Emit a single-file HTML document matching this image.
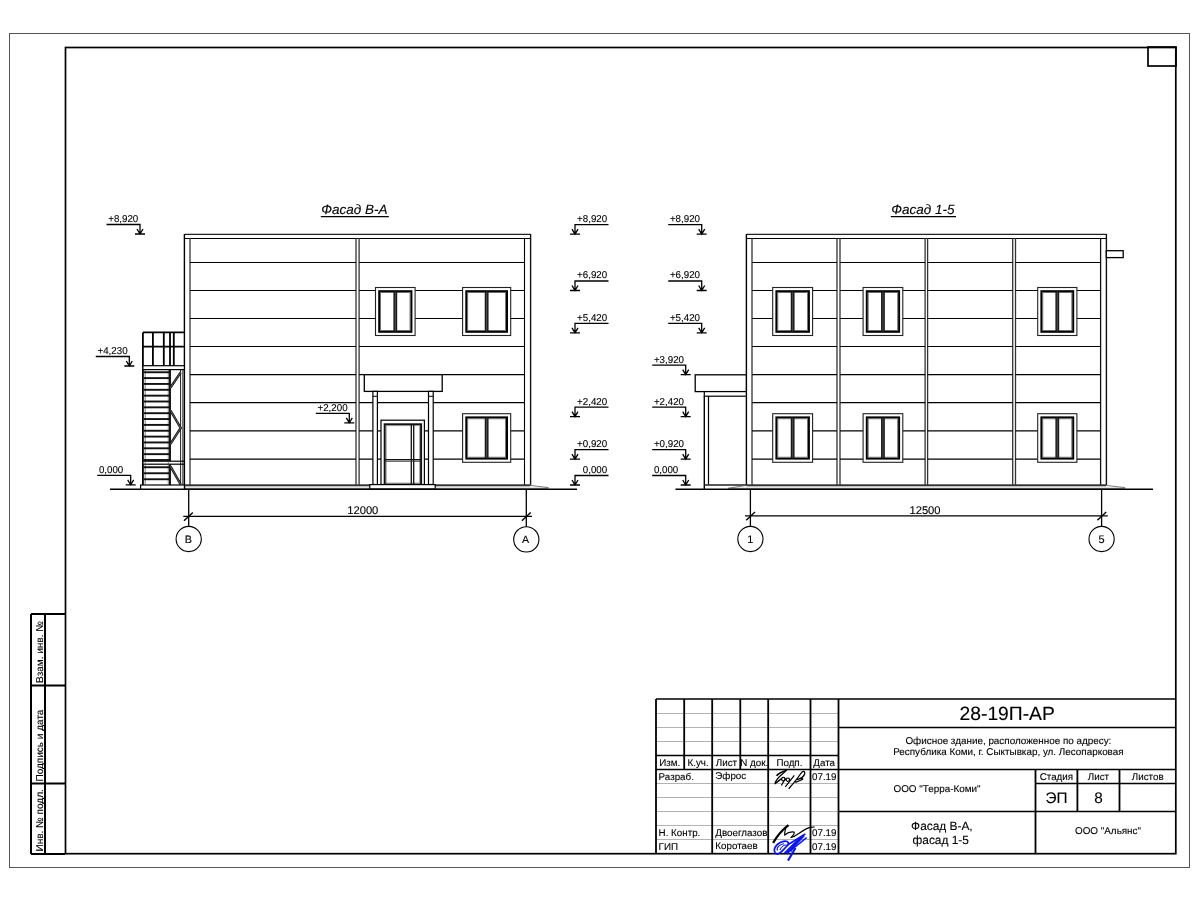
<!DOCTYPE html>
<html><head><meta charset="utf-8"><style>
html,body{margin:0;padding:0;background:#fff;}
svg{display:block;will-change:transform;}
text{font-family:"Liberation Sans",sans-serif;text-rendering:geometricPrecision;stroke:#000;stroke-width:0.12px;}
</style></head><body>
<svg width="1200" height="900" viewBox="0 0 1200 900">

<rect x="9.5" y="33.5" width="1180.0" height="834.0" stroke="#555" stroke-width="1" fill="none"/>
<rect x="65.5" y="47.5" width="1110.3" height="806.2" stroke="#000" stroke-width="1.7" fill="none"/>
<rect x="1148" y="47" width="28" height="19" stroke="#000" stroke-width="1.7" fill="none"/>
<path d="M31,614 H65 M31,614 V854 M45,614 V854 M31,685.5 H65 M31,783.5 H65 M31,854 H65" stroke="#000" stroke-width="2" fill="none" />
<text x="42.8" y="683" font-size="10" text-anchor="start" fill="#000"  transform="rotate(-90 42.8 683)">Взам. инв. №</text>
<text x="42.8" y="781.5" font-size="10" text-anchor="start" fill="#000"  transform="rotate(-90 42.8 781.5)">Подпись и дата</text>
<text x="42.8" y="851.5" font-size="10" text-anchor="start" fill="#000"  transform="rotate(-90 42.8 851.5)">Инв. № подл.</text>
<text x="321.2" y="213.8" font-size="13.5" text-anchor="start" fill="#000" font-style="italic" >Фасад В-А</text>
<line x1="320.8" y1="216.5" x2="388.8" y2="216.5" stroke="#000" stroke-width="1.25" />
<path d="M106.5,224.5 H140 V234.0 M135,234.0 H145 M137,229.0 L140,234.0 L143,229.0" stroke="#000" stroke-width="1.3" fill="none" />
<text x="108.2" y="221.95" font-size="9.95" text-anchor="start" fill="#000"  textLength="30.09" lengthAdjust="spacingAndGlyphs">+8,920</text>
<path d="M95.80000000000001,356.5 H129.3 V366.0 M124.30000000000001,366.0 H134.3 M126.30000000000001,361.0 L129.3,366.0 L132.3,361.0" stroke="#000" stroke-width="1.3" fill="none" />
<text x="97.50000000000001" y="353.95" font-size="9.95" text-anchor="start" fill="#000"  textLength="30.09" lengthAdjust="spacingAndGlyphs">+4,230</text>
<path d="M97.19999999999999,475.3 H130.7 V484.8 M125.69999999999999,484.8 H135.7 M127.69999999999999,479.8 L130.7,484.8 L133.7,479.8" stroke="#000" stroke-width="1.3" fill="none" />
<text x="98.89999999999999" y="472.75" font-size="9.95" text-anchor="start" fill="#000"  textLength="24.40" lengthAdjust="spacingAndGlyphs">0,000</text>
<path d="M315.8,413.3 H349.3 V422.8 M344.3,422.8 H354.3 M346.3,417.8 L349.3,422.8 L352.3,417.8" stroke="#000" stroke-width="1.3" fill="none" />
<text x="317.5" y="410.75" font-size="9.95" text-anchor="start" fill="#000"  textLength="30.09" lengthAdjust="spacingAndGlyphs">+2,200</text>
<path d="M608.5,224.7 H575 V234.2 M570,234.2 H580 M572,229.2 L575,234.2 L578,229.2" stroke="#000" stroke-width="1.3" fill="none" />
<text x="577.1072343750001" y="222.14999999999998" font-size="9.95" text-anchor="start" fill="#000"  textLength="30.09" lengthAdjust="spacingAndGlyphs">+8,920</text>
<path d="M608.5,281 H575 V290.5 M570,290.5 H580 M572,285.5 L575,290.5 L578,285.5" stroke="#000" stroke-width="1.3" fill="none" />
<text x="577.1072343750001" y="278.45" font-size="9.95" text-anchor="start" fill="#000"  textLength="30.09" lengthAdjust="spacingAndGlyphs">+6,920</text>
<path d="M608.5,323.3 H575 V332.8 M570,332.8 H580 M572,327.8 L575,332.8 L578,327.8" stroke="#000" stroke-width="1.3" fill="none" />
<text x="577.1072343750001" y="320.75" font-size="9.95" text-anchor="start" fill="#000"  textLength="30.09" lengthAdjust="spacingAndGlyphs">+5,420</text>
<path d="M608.5,407.2 H575 V416.7 M570,416.7 H580 M572,411.7 L575,416.7 L578,411.7" stroke="#000" stroke-width="1.3" fill="none" />
<text x="577.1072343750001" y="404.65" font-size="9.95" text-anchor="start" fill="#000"  textLength="30.09" lengthAdjust="spacingAndGlyphs">+2,420</text>
<path d="M608.5,449.7 H575 V459.2 M570,459.2 H580 M572,454.2 L575,459.2 L578,454.2" stroke="#000" stroke-width="1.3" fill="none" />
<text x="577.1072343750001" y="447.15" font-size="9.95" text-anchor="start" fill="#000"  textLength="30.09" lengthAdjust="spacingAndGlyphs">+0,920</text>
<path d="M608.5,475.5 H575 V485.0 M570,485.0 H580 M572,480.0 L575,485.0 L578,480.0" stroke="#000" stroke-width="1.3" fill="none" />
<text x="582.8010820312501" y="472.95" font-size="9.95" text-anchor="start" fill="#000"  textLength="24.40" lengthAdjust="spacingAndGlyphs">0,000</text>
<line x1="184.4" y1="234.4" x2="530.6" y2="234.4" stroke="#222" stroke-width="1.3" />
<line x1="184.4" y1="238.5" x2="530.6" y2="238.5" stroke="#000" stroke-width="1.1" />
<line x1="184.4" y1="234" x2="184.4" y2="485" stroke="#000" stroke-width="1.4" />
<line x1="190" y1="238" x2="190" y2="485" stroke="#333" stroke-width="1.3" />
<line x1="530.6" y1="234" x2="530.6" y2="485" stroke="#111" stroke-width="1.4" />
<line x1="524.5" y1="238" x2="524.5" y2="485" stroke="#000" stroke-width="1.1" />
<line x1="356" y1="238" x2="356" y2="485" stroke="#333" stroke-width="1.3" />
<line x1="359.1" y1="238" x2="359.1" y2="485" stroke="#333" stroke-width="1.3" />
<line x1="190" y1="262.5" x2="356" y2="262.5" stroke="#000" stroke-width="1.2" />
<line x1="359.1" y1="262.5" x2="524.5" y2="262.5" stroke="#000" stroke-width="1.2" />
<line x1="190" y1="290.5" x2="356" y2="290.5" stroke="#000" stroke-width="1.2" />
<line x1="359.1" y1="290.5" x2="524.5" y2="290.5" stroke="#000" stroke-width="1.2" />
<line x1="190" y1="318.5" x2="356" y2="318.5" stroke="#000" stroke-width="1.2" />
<line x1="359.1" y1="318.5" x2="524.5" y2="318.5" stroke="#000" stroke-width="1.2" />
<line x1="190" y1="346.5" x2="356" y2="346.5" stroke="#000" stroke-width="1.2" />
<line x1="359.1" y1="346.5" x2="524.5" y2="346.5" stroke="#000" stroke-width="1.2" />
<line x1="190" y1="374.6" x2="356" y2="374.6" stroke="#000" stroke-width="1.2" />
<line x1="359.1" y1="374.6" x2="524.5" y2="374.6" stroke="#000" stroke-width="1.2" />
<line x1="190" y1="402.7" x2="356" y2="402.7" stroke="#000" stroke-width="1.2" />
<line x1="359.1" y1="402.7" x2="524.5" y2="402.7" stroke="#000" stroke-width="1.2" />
<line x1="190" y1="430.9" x2="356" y2="430.9" stroke="#000" stroke-width="1.2" />
<line x1="359.1" y1="430.9" x2="524.5" y2="430.9" stroke="#000" stroke-width="1.2" />
<line x1="190" y1="459.1" x2="356" y2="459.1" stroke="#000" stroke-width="1.2" />
<line x1="359.1" y1="459.1" x2="524.5" y2="459.1" stroke="#000" stroke-width="1.2" />
<rect x="375.5" y="287.5" width="39.60000000000002" height="48.0" stroke="#222" stroke-width="1.1" fill="#fff"/>
<rect x="379.2" y="291.2" width="32.200000000000045" height="40.60000000000002" stroke="#000" stroke-width="2.0" fill="#fff"/>
<rect x="380.59999999999997" y="292.59999999999997" width="29.40000000000009" height="37.80000000000007" stroke="#555" stroke-width="0.8" fill="none"/>
<rect x="393.40000000000003" y="291.2" width="3.8" height="40.60000000000002" fill="#1a1a1a"/>
<line x1="395.3" y1="292.2" x2="395.3" y2="330.8" stroke="#666" stroke-width="0.7" />
<rect x="462.6" y="287.5" width="48.099999999999966" height="48.0" stroke="#222" stroke-width="1.1" fill="#fff"/>
<rect x="466.3" y="291.2" width="40.69999999999999" height="40.60000000000002" stroke="#000" stroke-width="2.0" fill="#fff"/>
<rect x="467.7" y="292.59999999999997" width="37.900000000000034" height="37.80000000000007" stroke="#555" stroke-width="0.8" fill="none"/>
<rect x="484.75" y="291.2" width="3.8" height="40.60000000000002" fill="#1a1a1a"/>
<line x1="486.65" y1="292.2" x2="486.65" y2="330.8" stroke="#666" stroke-width="0.7" />
<rect x="462.6" y="413.7" width="48.099999999999966" height="48.60000000000002" stroke="#222" stroke-width="1.1" fill="#fff"/>
<rect x="466.3" y="417.4" width="40.69999999999999" height="41.200000000000045" stroke="#000" stroke-width="2.0" fill="#fff"/>
<rect x="467.7" y="418.79999999999995" width="37.900000000000034" height="38.40000000000009" stroke="#555" stroke-width="0.8" fill="none"/>
<rect x="484.75" y="417.4" width="3.8" height="41.200000000000045" fill="#1a1a1a"/>
<line x1="486.65" y1="418.4" x2="486.65" y2="457.6" stroke="#666" stroke-width="0.7" />
<rect x="364.3" y="374.7" width="77.89999999999998" height="16.69999999999999" stroke="#000" stroke-width="1.3" fill="#fff"/>
<rect x="372.9" y="391.4" width="4.5" height="93.10000000000002" stroke="#000" stroke-width="1.2" fill="#fff"/>
<line x1="372.9" y1="396.3" x2="377.4" y2="396.3" stroke="#000" stroke-width="1" />
<rect x="428.5" y="391.4" width="4.699999999999989" height="93.10000000000002" stroke="#000" stroke-width="1.2" fill="#fff"/>
<line x1="428.5" y1="396.3" x2="433.2" y2="396.3" stroke="#000" stroke-width="1" />
<rect x="381" y="420.2" width="43.39999999999998" height="64.30000000000001" stroke="#000" stroke-width="1.2" fill="#fff"/>
<rect x="384.7" y="424.3" width="36.400000000000034" height="60.19999999999999" stroke="#111" stroke-width="2" fill="#fff"/>
<rect x="386.2" y="425.8" width="33.400000000000034" height="57.19999999999999" stroke="#777" stroke-width="0.6" fill="none"/>
<line x1="411.3" y1="424" x2="411.3" y2="484" stroke="#111" stroke-width="1.3" />
<line x1="413.7" y1="424" x2="413.7" y2="484" stroke="#111" stroke-width="1.3" />
<line x1="385" y1="459.6" x2="421" y2="459.6" stroke="#111" stroke-width="1.1" />
<line x1="385" y1="461.2" x2="421" y2="461.2" stroke="#333" stroke-width="1.0" />
<rect x="184.5" y="484.3" width="346" height="2" fill="#333"/>
<path d="M530.3,485.3 Q536,486.3 548.3,487.5 L548.3,488.3 L184.5,488.3" stroke="#555" stroke-width="0.8" fill="none" />
<rect x="369.8" y="484.6" width="65.39999999999998" height="4.399999999999977" stroke="#000" stroke-width="1.2" fill="#fff"/>
<line x1="110" y1="489.3" x2="577" y2="489.3" stroke="#000" stroke-width="1.45" />
<line x1="184.5" y1="484.5" x2="184.5" y2="489" stroke="#000" stroke-width="1.3" />
<path d="M142.9,332.4 H184.2 M142.9,346.6 H184.2 M142.9,332.4 V485 M152.9,332.4 V365.7 M163.8,332.4 V365.7 M170,332.4 V485 M173.8,332.4 V365.7" stroke="#000" stroke-width="1.8" fill="none" />
<rect x="142.9" y="365.7" width="41.5" height="3.900000000000034" stroke="#000" stroke-width="1.2" fill="#fff"/>
<rect x="142.9" y="461.2" width="41.5" height="3.0" stroke="#000" stroke-width="1.2" fill="#fff"/>
<line x1="145.2" y1="370" x2="145.2" y2="484.5" stroke="#555" stroke-width="0.8" />
<line x1="168.3" y1="370" x2="168.3" y2="484.5" stroke="#555" stroke-width="0.8" />
<rect x="143.5" y="371.3" width="26" height="1.9" fill="#111"/>
<rect x="143.5" y="377.15000000000003" width="26" height="1.9" fill="#111"/>
<rect x="143.5" y="383.00000000000006" width="26" height="1.9" fill="#111"/>
<rect x="143.5" y="388.8500000000001" width="26" height="1.9" fill="#111"/>
<rect x="143.5" y="394.7000000000001" width="26" height="1.9" fill="#111"/>
<rect x="143.5" y="400.5500000000001" width="26" height="1.9" fill="#111"/>
<rect x="143.5" y="406.40000000000015" width="26" height="1.9" fill="#111"/>
<rect x="143.5" y="412.25000000000017" width="26" height="1.9" fill="#111"/>
<rect x="143.5" y="418.1000000000002" width="26" height="1.9" fill="#111"/>
<rect x="143.5" y="423.9500000000002" width="26" height="1.9" fill="#111"/>
<rect x="143.5" y="429.80000000000024" width="26" height="1.9" fill="#111"/>
<rect x="143.5" y="435.65000000000026" width="26" height="1.9" fill="#111"/>
<rect x="143.5" y="441.5000000000003" width="26" height="1.9" fill="#111"/>
<rect x="143.5" y="447.3500000000003" width="26" height="1.9" fill="#111"/>
<rect x="143.5" y="453.20000000000033" width="26" height="1.9" fill="#111"/>
<rect x="143.5" y="459.05000000000035" width="26" height="1.9" fill="#111"/>
<rect x="143.5" y="466.3" width="26" height="1.9" fill="#111"/>
<rect x="143.5" y="472.3" width="26" height="1.9" fill="#111"/>
<rect x="143.5" y="478.3" width="26" height="1.9" fill="#111"/>
<line x1="180.6" y1="369.6" x2="180.6" y2="485" stroke="#000" stroke-width="0.9" />
<line x1="182.9" y1="369.6" x2="182.9" y2="485" stroke="#000" stroke-width="0.9" />
<path d="M170.5,387.5 L180.7,372.3 M170.5,410.6 L180.7,428 L170.5,443.9 M170.5,466.3 L180.7,484.4" stroke="#111" stroke-width="2.4" fill="none" />
<path d="M170.5,387.5 L180.7,372.3 M170.5,410.6 L180.7,428 L170.5,443.9 M170.5,466.3 L180.7,484.4" stroke="#999" stroke-width="0.6" fill="none" />
<rect x="140.6" y="485" width="43.80000000000001" height="4.100000000000023" stroke="#000" stroke-width="1.2" fill="#fff"/>
<line x1="188.7" y1="489" x2="188.7" y2="526" stroke="#000" stroke-width="1.3" />
<line x1="526.3" y1="489" x2="526.3" y2="526.8" stroke="#000" stroke-width="1.3" />
<line x1="183.3" y1="516.4" x2="532" y2="516.4" stroke="#000" stroke-width="1.3" />
<path d="M184,520.7 L192.8,512.5 M521.9,520.7 L530.7,512.5" stroke="#000" stroke-width="1.4" fill="none" />
<circle cx="188.7" cy="539" r="12.6" stroke="#000" stroke-width="1.1" fill="none"/>
<circle cx="526.3" cy="539.4" r="12.6" stroke="#000" stroke-width="1.1" fill="none"/>
<text x="188.3" y="543" font-size="10.8" text-anchor="middle" fill="#000"  >В</text>
<text x="525.6" y="543.3" font-size="10.6" text-anchor="middle" fill="#000"  >А</text>
<text x="362.8" y="514" font-size="11.2" text-anchor="middle" fill="#000"  >12000</text>
<text x="891.2" y="213.8" font-size="13.5" text-anchor="start" fill="#000" font-style="italic" >Фасад 1-5</text>
<line x1="890.8" y1="216.5" x2="956" y2="216.5" stroke="#000" stroke-width="1.25" />
<path d="M668.2,224.7 H701.7 V234.2 M696.7,234.2 H706.7 M698.7,229.2 L701.7,234.2 L704.7,229.2" stroke="#000" stroke-width="1.3" fill="none" />
<text x="669.9000000000001" y="222.14999999999998" font-size="9.95" text-anchor="start" fill="#000"  textLength="30.09" lengthAdjust="spacingAndGlyphs">+8,920</text>
<path d="M668.2,281 H701.7 V290.5 M696.7,290.5 H706.7 M698.7,285.5 L701.7,290.5 L704.7,285.5" stroke="#000" stroke-width="1.3" fill="none" />
<text x="669.9000000000001" y="278.45" font-size="9.95" text-anchor="start" fill="#000"  textLength="30.09" lengthAdjust="spacingAndGlyphs">+6,920</text>
<path d="M668.2,323.3 H701.7 V332.8 M696.7,332.8 H706.7 M698.7,327.8 L701.7,332.8 L704.7,327.8" stroke="#000" stroke-width="1.3" fill="none" />
<text x="669.9000000000001" y="320.75" font-size="9.95" text-anchor="start" fill="#000"  textLength="30.09" lengthAdjust="spacingAndGlyphs">+5,420</text>
<path d="M652.2,365.2 H685.7 V374.7 M680.7,374.7 H690.7 M682.7,369.7 L685.7,374.7 L688.7,369.7" stroke="#000" stroke-width="1.3" fill="none" />
<text x="653.9000000000001" y="362.65" font-size="9.95" text-anchor="start" fill="#000"  textLength="30.09" lengthAdjust="spacingAndGlyphs">+3,920</text>
<path d="M652.2,407.2 H685.7 V416.7 M680.7,416.7 H690.7 M682.7,411.7 L685.7,416.7 L688.7,411.7" stroke="#000" stroke-width="1.3" fill="none" />
<text x="653.9000000000001" y="404.65" font-size="9.95" text-anchor="start" fill="#000"  textLength="30.09" lengthAdjust="spacingAndGlyphs">+2,420</text>
<path d="M652.2,449.7 H685.7 V459.2 M680.7,459.2 H690.7 M682.7,454.2 L685.7,459.2 L688.7,454.2" stroke="#000" stroke-width="1.3" fill="none" />
<text x="653.9000000000001" y="447.15" font-size="9.95" text-anchor="start" fill="#000"  textLength="30.09" lengthAdjust="spacingAndGlyphs">+0,920</text>
<path d="M652.2,475.5 H685.7 V485.0 M680.7,485.0 H690.7 M682.7,480.0 L685.7,485.0 L688.7,480.0" stroke="#000" stroke-width="1.3" fill="none" />
<text x="653.9000000000001" y="472.95" font-size="9.95" text-anchor="start" fill="#000"  textLength="24.40" lengthAdjust="spacingAndGlyphs">0,000</text>
<line x1="746.4" y1="234.4" x2="1106.4" y2="234.4" stroke="#222" stroke-width="1.3" />
<line x1="746.4" y1="238.5" x2="1106.4" y2="238.5" stroke="#000" stroke-width="1.1" />
<line x1="746.4" y1="234" x2="746.4" y2="485" stroke="#000" stroke-width="1.4" />
<line x1="752" y1="238" x2="752" y2="485" stroke="#333" stroke-width="1.3" />
<line x1="1106.4" y1="234" x2="1106.4" y2="485" stroke="#111" stroke-width="1.4" />
<line x1="1100.6" y1="238" x2="1100.6" y2="485" stroke="#111" stroke-width="1.3" />
<line x1="837" y1="238" x2="837" y2="485" stroke="#333" stroke-width="1.3" />
<line x1="840" y1="238" x2="840" y2="485" stroke="#333" stroke-width="1.3" />
<line x1="925.1" y1="238" x2="925.1" y2="485" stroke="#333" stroke-width="1.3" />
<line x1="927.6" y1="238" x2="927.6" y2="485" stroke="#333" stroke-width="1.3" />
<line x1="1012.7" y1="238" x2="1012.7" y2="485" stroke="#333" stroke-width="1.3" />
<line x1="1015.5" y1="238" x2="1015.5" y2="485" stroke="#333" stroke-width="1.3" />
<rect x="1106.3" y="250.7" width="16.90000000000009" height="6.900000000000034" stroke="#000" stroke-width="1.3" fill="#fff"/>
<line x1="752" y1="262.5" x2="837" y2="262.5" stroke="#000" stroke-width="1.2" />
<line x1="840" y1="262.5" x2="925.1" y2="262.5" stroke="#000" stroke-width="1.2" />
<line x1="927.6" y1="262.5" x2="1012.7" y2="262.5" stroke="#000" stroke-width="1.2" />
<line x1="1015.5" y1="262.5" x2="1100.6" y2="262.5" stroke="#000" stroke-width="1.2" />
<line x1="752" y1="290.5" x2="837" y2="290.5" stroke="#000" stroke-width="1.2" />
<line x1="840" y1="290.5" x2="925.1" y2="290.5" stroke="#000" stroke-width="1.2" />
<line x1="927.6" y1="290.5" x2="1012.7" y2="290.5" stroke="#000" stroke-width="1.2" />
<line x1="1015.5" y1="290.5" x2="1100.6" y2="290.5" stroke="#000" stroke-width="1.2" />
<line x1="752" y1="318.5" x2="837" y2="318.5" stroke="#000" stroke-width="1.2" />
<line x1="840" y1="318.5" x2="925.1" y2="318.5" stroke="#000" stroke-width="1.2" />
<line x1="927.6" y1="318.5" x2="1012.7" y2="318.5" stroke="#000" stroke-width="1.2" />
<line x1="1015.5" y1="318.5" x2="1100.6" y2="318.5" stroke="#000" stroke-width="1.2" />
<line x1="752" y1="346.5" x2="837" y2="346.5" stroke="#000" stroke-width="1.2" />
<line x1="840" y1="346.5" x2="925.1" y2="346.5" stroke="#000" stroke-width="1.2" />
<line x1="927.6" y1="346.5" x2="1012.7" y2="346.5" stroke="#000" stroke-width="1.2" />
<line x1="1015.5" y1="346.5" x2="1100.6" y2="346.5" stroke="#000" stroke-width="1.2" />
<line x1="752" y1="374.6" x2="837" y2="374.6" stroke="#000" stroke-width="1.2" />
<line x1="840" y1="374.6" x2="925.1" y2="374.6" stroke="#000" stroke-width="1.2" />
<line x1="927.6" y1="374.6" x2="1012.7" y2="374.6" stroke="#000" stroke-width="1.2" />
<line x1="1015.5" y1="374.6" x2="1100.6" y2="374.6" stroke="#000" stroke-width="1.2" />
<line x1="752" y1="402.7" x2="837" y2="402.7" stroke="#000" stroke-width="1.2" />
<line x1="840" y1="402.7" x2="925.1" y2="402.7" stroke="#000" stroke-width="1.2" />
<line x1="927.6" y1="402.7" x2="1012.7" y2="402.7" stroke="#000" stroke-width="1.2" />
<line x1="1015.5" y1="402.7" x2="1100.6" y2="402.7" stroke="#000" stroke-width="1.2" />
<line x1="752" y1="430.9" x2="837" y2="430.9" stroke="#000" stroke-width="1.2" />
<line x1="840" y1="430.9" x2="925.1" y2="430.9" stroke="#000" stroke-width="1.2" />
<line x1="927.6" y1="430.9" x2="1012.7" y2="430.9" stroke="#000" stroke-width="1.2" />
<line x1="1015.5" y1="430.9" x2="1100.6" y2="430.9" stroke="#000" stroke-width="1.2" />
<line x1="752" y1="459.1" x2="837" y2="459.1" stroke="#000" stroke-width="1.2" />
<line x1="840" y1="459.1" x2="925.1" y2="459.1" stroke="#000" stroke-width="1.2" />
<line x1="927.6" y1="459.1" x2="1012.7" y2="459.1" stroke="#000" stroke-width="1.2" />
<line x1="1015.5" y1="459.1" x2="1100.6" y2="459.1" stroke="#000" stroke-width="1.2" />
<rect x="772.7" y="287.5" width="39.89999999999998" height="48.0" stroke="#222" stroke-width="1.1" fill="#fff"/>
<rect x="776.4000000000001" y="291.2" width="32.499999999999886" height="40.60000000000002" stroke="#000" stroke-width="2.0" fill="#fff"/>
<rect x="777.8000000000001" y="292.59999999999997" width="29.699999999999932" height="37.80000000000007" stroke="#555" stroke-width="0.8" fill="none"/>
<rect x="790.7500000000001" y="291.2" width="3.8" height="40.60000000000002" fill="#1a1a1a"/>
<line x1="792.6500000000001" y1="292.2" x2="792.6500000000001" y2="330.8" stroke="#666" stroke-width="0.7" />
<rect x="772.7" y="413.7" width="39.89999999999998" height="48.60000000000002" stroke="#222" stroke-width="1.1" fill="#fff"/>
<rect x="776.4000000000001" y="417.4" width="32.499999999999886" height="41.200000000000045" stroke="#000" stroke-width="2.0" fill="#fff"/>
<rect x="777.8000000000001" y="418.79999999999995" width="29.699999999999932" height="38.40000000000009" stroke="#555" stroke-width="0.8" fill="none"/>
<rect x="790.7500000000001" y="417.4" width="3.8" height="41.200000000000045" fill="#1a1a1a"/>
<line x1="792.6500000000001" y1="418.4" x2="792.6500000000001" y2="457.6" stroke="#666" stroke-width="0.7" />
<rect x="863.1" y="287.5" width="39.69999999999993" height="48.0" stroke="#222" stroke-width="1.1" fill="#fff"/>
<rect x="866.8000000000001" y="291.2" width="32.29999999999984" height="40.60000000000002" stroke="#000" stroke-width="2.0" fill="#fff"/>
<rect x="868.2" y="292.59999999999997" width="29.499999999999886" height="37.80000000000007" stroke="#555" stroke-width="0.8" fill="none"/>
<rect x="881.0500000000001" y="291.2" width="3.8" height="40.60000000000002" fill="#1a1a1a"/>
<line x1="882.95" y1="292.2" x2="882.95" y2="330.8" stroke="#666" stroke-width="0.7" />
<rect x="863.1" y="413.7" width="39.69999999999993" height="48.60000000000002" stroke="#222" stroke-width="1.1" fill="#fff"/>
<rect x="866.8000000000001" y="417.4" width="32.29999999999984" height="41.200000000000045" stroke="#000" stroke-width="2.0" fill="#fff"/>
<rect x="868.2" y="418.79999999999995" width="29.499999999999886" height="38.40000000000009" stroke="#555" stroke-width="0.8" fill="none"/>
<rect x="881.0500000000001" y="417.4" width="3.8" height="41.200000000000045" fill="#1a1a1a"/>
<line x1="882.95" y1="418.4" x2="882.95" y2="457.6" stroke="#666" stroke-width="0.7" />
<rect x="1037.7" y="287.5" width="39.200000000000045" height="48.0" stroke="#222" stroke-width="1.1" fill="#fff"/>
<rect x="1041.4" y="291.2" width="31.799999999999955" height="40.60000000000002" stroke="#000" stroke-width="2.0" fill="#fff"/>
<rect x="1042.8000000000002" y="292.59999999999997" width="28.999999999999773" height="37.80000000000007" stroke="#555" stroke-width="0.8" fill="none"/>
<rect x="1055.4" y="291.2" width="3.8" height="40.60000000000002" fill="#1a1a1a"/>
<line x1="1057.3000000000002" y1="292.2" x2="1057.3000000000002" y2="330.8" stroke="#666" stroke-width="0.7" />
<rect x="1037.7" y="413.7" width="39.200000000000045" height="48.60000000000002" stroke="#222" stroke-width="1.1" fill="#fff"/>
<rect x="1041.4" y="417.4" width="31.799999999999955" height="41.200000000000045" stroke="#000" stroke-width="2.0" fill="#fff"/>
<rect x="1042.8000000000002" y="418.79999999999995" width="28.999999999999773" height="38.40000000000009" stroke="#555" stroke-width="0.8" fill="none"/>
<rect x="1055.4" y="417.4" width="3.8" height="41.200000000000045" fill="#1a1a1a"/>
<line x1="1057.3000000000002" y1="418.4" x2="1057.3000000000002" y2="457.6" stroke="#666" stroke-width="0.7" />
<rect x="695.2" y="374.8" width="51.09999999999991" height="16.80000000000001" stroke="#000" stroke-width="1.3" fill="#fff"/>
<rect x="704.3" y="391.6" width="42.0" height="4.599999999999966" stroke="#000" stroke-width="1.2" fill="#fff"/>
<line x1="704.3" y1="396" x2="704.3" y2="489.3" stroke="#000" stroke-width="1.4" />
<line x1="708.5" y1="396" x2="708.5" y2="484.6" stroke="#000" stroke-width="1.2" />
<line x1="704.3" y1="484.9" x2="746.3" y2="484.9" stroke="#222" stroke-width="1.5" />
<rect x="746.3" y="484.3" width="360" height="2" fill="#333"/>
<path d="M1106.3,485.3 Q1112,486.3 1124.8,487.5 L1124.8,488.3 L728.2,488.3 L746.3,485.3" stroke="#555" stroke-width="0.8" fill="none" />
<line x1="675.5" y1="489.3" x2="1153" y2="489.3" stroke="#000" stroke-width="1.45" />
<line x1="750.4" y1="489" x2="750.4" y2="526.5" stroke="#000" stroke-width="1.3" />
<line x1="1101.6" y1="489" x2="1101.6" y2="526.5" stroke="#000" stroke-width="1.3" />
<line x1="745" y1="515.9" x2="1107.8" y2="515.9" stroke="#000" stroke-width="1.3" />
<path d="M746.2,520.2 L755,512 M1097.4,520.2 L1106.2,512" stroke="#000" stroke-width="1.4" fill="none" />
<circle cx="750.4" cy="539" r="12.6" stroke="#000" stroke-width="1.1" fill="none"/>
<circle cx="1101.6" cy="539" r="12.6" stroke="#000" stroke-width="1.1" fill="none"/>
<text x="750.4" y="543" font-size="11" text-anchor="middle" fill="#000"  >1</text>
<text x="1101.6" y="543" font-size="11" text-anchor="middle" fill="#000"  >5</text>
<text x="925" y="513.5" font-size="11.2" text-anchor="middle" fill="#000"  >12500</text>
<line x1="656" y1="713.5" x2="838.5" y2="713.5" stroke="#aaa" stroke-width="0.9" />
<line x1="656" y1="727.5" x2="838.5" y2="727.5" stroke="#aaa" stroke-width="0.9" />
<line x1="656" y1="741.5" x2="838.5" y2="741.5" stroke="#aaa" stroke-width="0.9" />
<line x1="656" y1="783.5" x2="838.5" y2="783.5" stroke="#aaa" stroke-width="0.9" />
<line x1="656" y1="797.5" x2="838.5" y2="797.5" stroke="#aaa" stroke-width="0.9" />
<line x1="656" y1="811.5" x2="838.5" y2="811.5" stroke="#aaa" stroke-width="0.9" />
<line x1="656" y1="825.5" x2="838.5" y2="825.5" stroke="#aaa" stroke-width="0.9" />
<line x1="656" y1="839.5" x2="838.5" y2="839.5" stroke="#aaa" stroke-width="0.9" />
<path d="M656,699 H1176 M656,755.5 H838.5 M656,769.5 H1176 M838.5,727.5 H1176 M838.5,811.5 H1176 M1035.5,783.5 H1176" stroke="#000" stroke-width="1.5" fill="none" />
<path d="M656,699 V854 M684.2,699 V769.5 M712.2,699 V854 M740.3,699 V769.5 M768.2,699 V854 M810.5,699 V854 M838.5,699 V854 M1035.5,769.5 V854 M1077.4,769.5 V811.5 M1119.5,769.5 V811.5" stroke="#000" stroke-width="1.8" fill="none" />
<text x="659.3" y="766" font-size="9.8" text-anchor="start" fill="#000"  >Изм.</text>
<text x="687.5" y="766" font-size="9.8" text-anchor="start" fill="#000"  >К.уч.</text>
<text x="715.8" y="766" font-size="9.8" text-anchor="start" fill="#000"  >Лист</text>
<text x="740.3" y="766" font-size="9.8" text-anchor="start" fill="#000"  >N док.</text>
<text x="789.4" y="766" font-size="9.8" text-anchor="middle" fill="#000"  >Подп.</text>
<text x="824.2" y="766" font-size="9.8" text-anchor="middle" fill="#000"  >Дата</text>
<text x="658.6" y="780" font-size="9.8" text-anchor="start" fill="#000"  >Разраб.</text>
<text x="715.3" y="779.2" font-size="9.8" text-anchor="start" fill="#000"  >Эфрос</text>
<text x="812" y="780.2" font-size="9.8" text-anchor="start" fill="#000"  >07.19</text>
<text x="658.6" y="836.2" font-size="9.8" text-anchor="start" fill="#000"  >Н. Контр.</text>
<text x="715.3" y="836.2" font-size="9.8" text-anchor="start" fill="#000"  >Двоеглазов</text>
<text x="812" y="836.2" font-size="9.8" text-anchor="start" fill="#000"  >07.19</text>
<text x="658.6" y="850.2" font-size="9.8" text-anchor="start" fill="#000"  >ГИП</text>
<text x="715.3" y="848.9" font-size="9.8" text-anchor="start" fill="#000"  >Коротаев</text>
<text x="812" y="850.2" font-size="9.8" text-anchor="start" fill="#000"  >07.19</text>
<text x="1007.2" y="720" font-size="19.3" text-anchor="middle" fill="#000"  >28-19П-АР</text>
<text x="1008.4" y="744.2" font-size="9.9" text-anchor="middle" fill="#000"  >Офисное здание, расположенное по адресу:</text>
<text x="1008.4" y="754.7" font-size="9.9" text-anchor="middle" fill="#000"  >Республика Коми, г. Сыктывкар, ул. Лесопарковая</text>
<text x="937" y="792" font-size="9.9" text-anchor="middle" fill="#000"  >ООО "Терра-Коми"</text>
<text x="941.9" y="830.4" font-size="11.9" text-anchor="middle" fill="#000"  >Фасад В-А,</text>
<text x="940.7" y="843.8" font-size="11.9" text-anchor="middle" fill="#000"  >фасад 1-5</text>
<text x="1056.4" y="780" font-size="9.8" text-anchor="middle" fill="#000"  >Стадия</text>
<text x="1098.4" y="780" font-size="9.8" text-anchor="middle" fill="#000"  >Лист</text>
<text x="1147.7" y="780" font-size="9.8" text-anchor="middle" fill="#000"  >Листов</text>
<text x="1056.4" y="803.2" font-size="15.3" text-anchor="middle" fill="#000"  >ЭП</text>
<text x="1098.4" y="803.2" font-size="15.3" text-anchor="middle" fill="#000"  >8</text>
<text x="1108" y="834" font-size="9.9" text-anchor="middle" fill="#000"  >ООО "Альянс"</text>
<path d="M776.5,775.8 C778.5,773.5 781.5,771.8 787,770.3" stroke="#000" stroke-width="1.7" fill="none" />
<path d="M785.5,771.2 C781.5,774.5 778.5,777 776.8,779.8 C775.3,782 774.6,784.2 775.4,783.6 C777,782.3 779.2,780.2 781.6,778.6" stroke="#000" stroke-width="1.3" fill="none" />
<path d="M783.3,777.3 a1.8,1.8 0 1,0 0.1,0 M787.8,778 a1.7,1.7 0 1,0 0.1,0" stroke="#000" stroke-width="1.2" fill="none" />
<path d="M781.3,785.5 L785.4,778.5 M785.3,786.8 L794.3,775.3" stroke="#000" stroke-width="1.2" fill="none" />
<path d="M788.7,788.7 C792,785 797.5,778.5 800.8,773.5 C802.8,770.5 805.3,770.8 804.6,774 C803.8,777 800.5,778.6 797,779.6 C800,778.2 803.2,777.6 802.6,779.2 C801.4,780.6 798.5,781.2 795,782.2" stroke="#000" stroke-width="1.3" fill="none" />
<path d="M773.1,842.9 C777,836 782,830 788.5,825.1" stroke="#000" stroke-width="2.2" fill="none" />
<path d="M785.7,827.9 C785,831 784.3,833.5 784.8,835 C786.5,833.5 790,831.5 794.1,832.1 C795,833.5 792.5,836 791.3,837.3 C796,837 803,829 810,827.4 L814.7,827" stroke="#000" stroke-width="1.2" fill="none" />
<path d="M776.5,854 C771.5,850.5 776,843 783.5,841.3 C788.5,840.6 790,843 786.5,846.5 C783,850 779.5,855 776.5,854 Z" stroke="#0a14f0" stroke-width="1.7" fill="none" />
<path d="M777.5,850.5 C776,847.5 779.5,844.5 784,843.8 M780,850 C781,847 784,845 786.5,845" stroke="#0a14f0" stroke-width="1.1" fill="none" />
<path d="M786.5,853.5 L803.8,835.3" stroke="#0a14f0" stroke-width="2.6" fill="none" />
<path d="M784.5,853 L800.5,837" stroke="#0a14f0" stroke-width="1.4" fill="none" />
<path d="M790.5,851.5 L796,843" stroke="#0a14f0" stroke-width="2.0" fill="none" />
<path d="M792,849.5 L806.6,837.7" stroke="#0a14f0" stroke-width="1.5" fill="none" />
<path d="M787.5,845 L805.3,834" stroke="#0a14f0" stroke-width="1.6" fill="none" />
<path d="M788,860.6 L795.5,848" stroke="#0a14f0" stroke-width="2.1" fill="none" />
</svg></body></html>
